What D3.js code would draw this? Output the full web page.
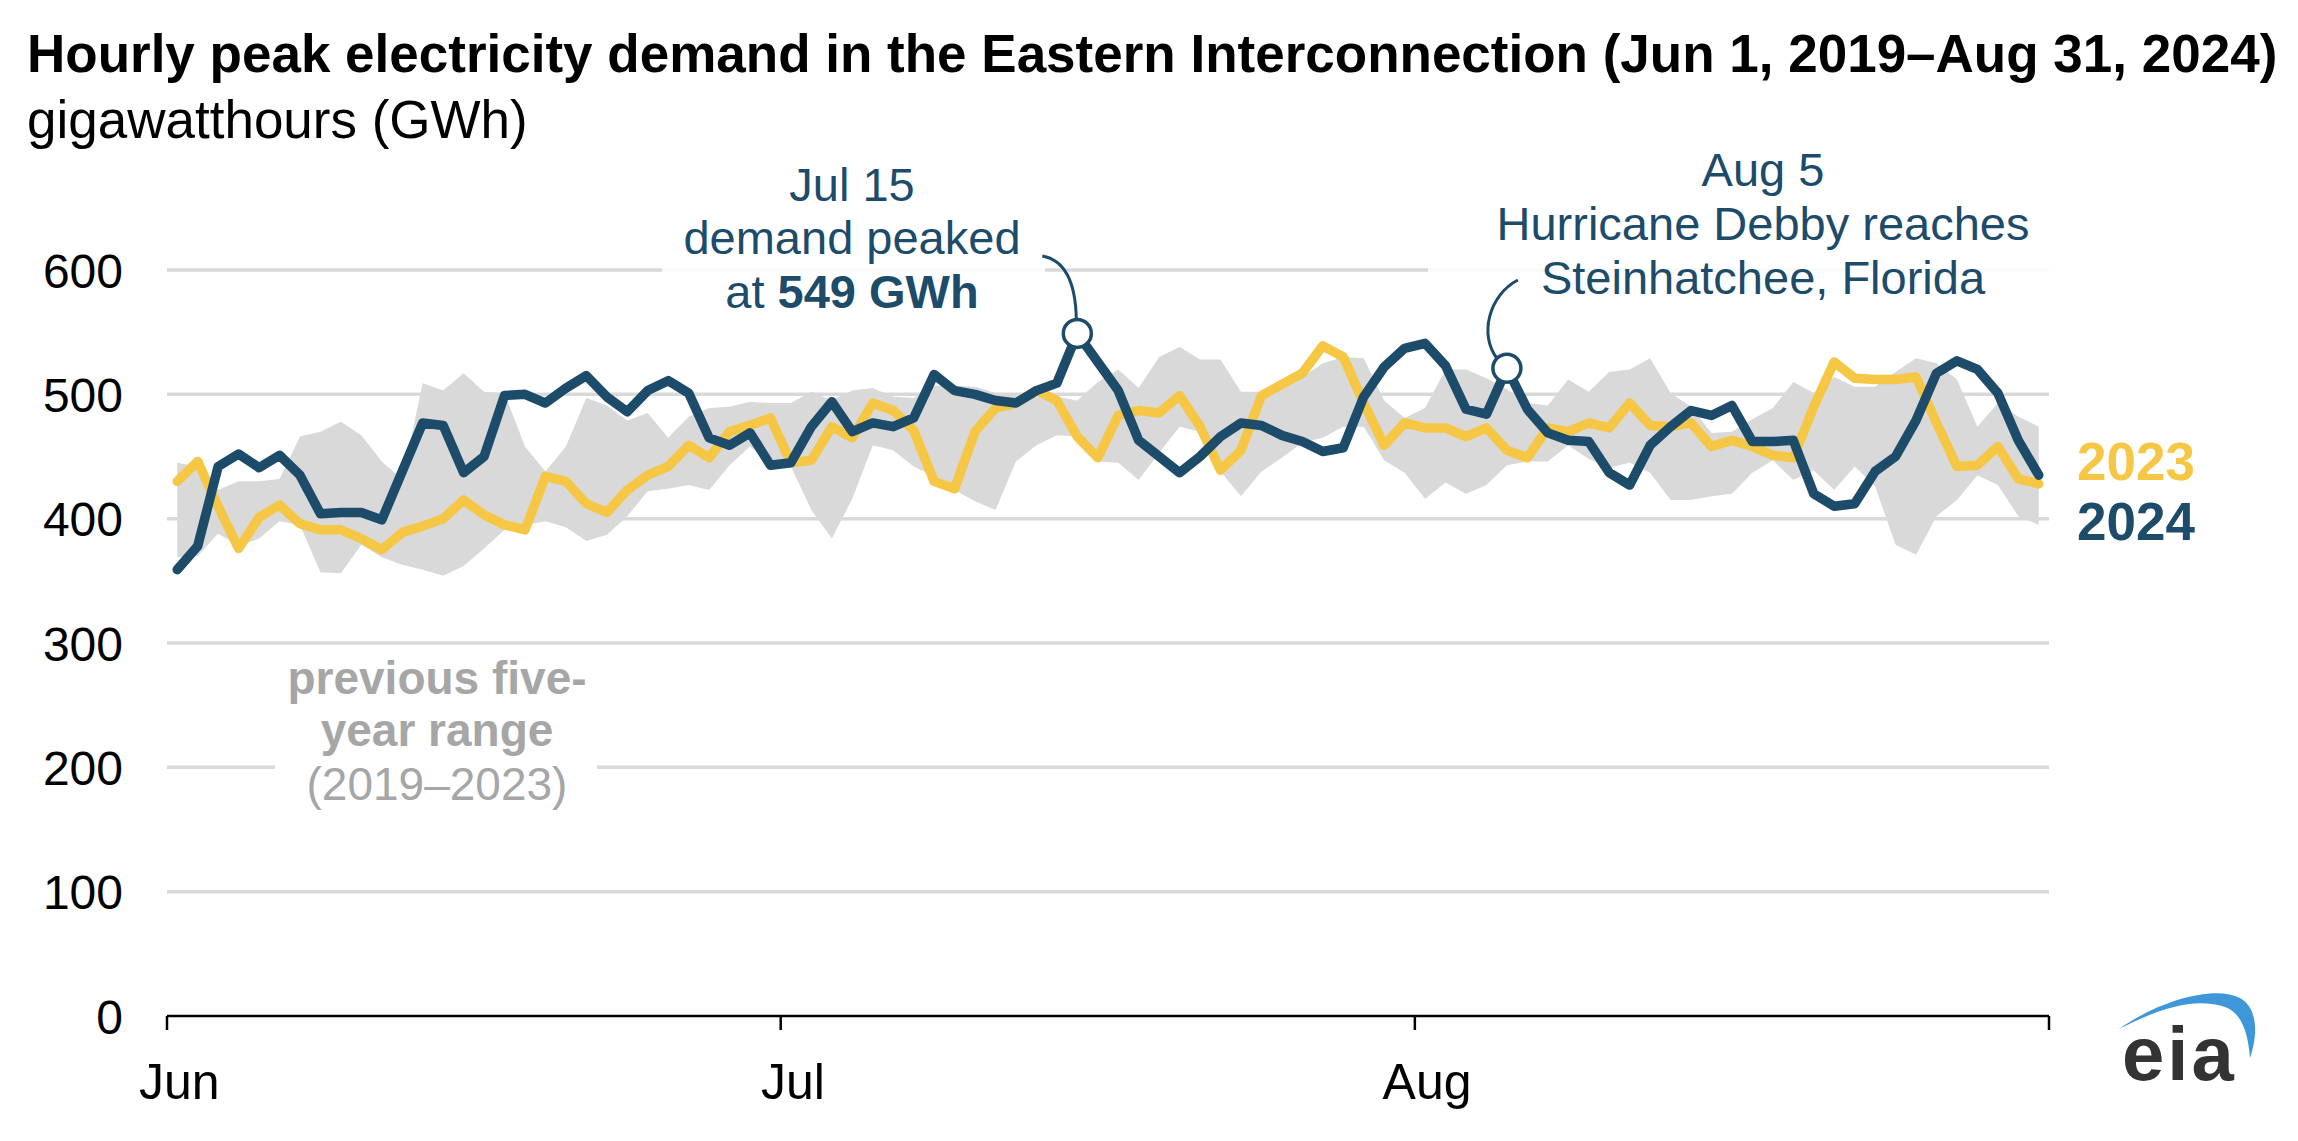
<!DOCTYPE html>
<html><head><meta charset="utf-8">
<script src="https://cdn.jsdelivr.net/npm/d3@7"></script>
<style>
html,body{margin:0;padding:0;background:#fff;}
svg{display:block;}
text{font-family:"Liberation Sans",Arial,Helvetica,sans-serif;}
</style></head><body>
<svg id="chart" width="2298" height="1141"></svg>
<script>
// ---------------- data ----------------
const days = d3.timeDay.range(new Date(2024,5,1), new Date(2024,8,1)); // Jun 1 .. Aug 31
const monthTicks = [new Date(2024,5,1), new Date(2024,6,1), new Date(2024,7,1)];
const monthLabels = ["Jun","Jul","Aug"];
const yTicks = [0,100,200,300,400,500,600];
const seriesNames = ["2023","2024"];

const demand2024 = [359,378,442,452,441,451,435,404,405,405,399,438,477,475,437,450,499,500,493,505,
515,498,486,503,511,501,465,459,469,443,445,474,494,470,477,474,481,516,503,500,
495,493,503,509,549,526,503,463,450,437,450,466,477,475,467,462,454,457,498,522,
537,541,523,488,484,521,488,469,463,462,437,427,459,474,487,483,491,462,462,463,
420,410,412,438,450,479,517,527,520,501,463,435];

const demand2023 = [430,446,410,376,401,411,396,391,391,384,375,389,394,400,415,403,395,391,434,430,
412,405,423,435,442,459,449,470,475,481,445,447,474,465,493,487,471,430,424,470,
489,493,503,495,466,449,483,487,485,499,474,439,455,499,508,517,539,530,493,459,
477,473,473,466,473,455,449,473,470,477,473,493,475,474,477,458,463,458,451,449,
490,526,513,512,512,514,477,442,443,458,432,428];

const rangeHigh = [445,442,423,430,430,432,466,470,478,467,446,432,509,503,517,502,501,458,438,458,
497,491,479,485,465,482,489,490,494,493,493,502,495,503,505,498,497,507,507,506,
501,501,498,498,495,510,520,505,530,538,528,528,502,502,504,514,525,530,529,495,
481,489,520,520,513,504,493,491,512,502,518,520,529,501,490,469,470,480,489,510,
501,514,506,506,518,529,525,512,474,493,482,474];

const rangeLow = [369,370,388,378,384,398,395,357,356,379,369,363,359,354,362,376,391,395,398,393,
382,387,402,422,424,427,423,443,458,445,442,407,384,416,459,455,442,434,423,414,
407,446,459,467,466,446,445,431,453,474,470,438,418,438,449,461,465,474,474,447,
437,416,429,420,427,443,446,446,459,448,441,445,437,415,415,418,420,437,447,431,
439,423,442,426,379,371,402,415,435,427,402,395];

const peakIndex = 44;   // Jul 15
const debbyIndex = 65;  // Aug 5

// ---------------- style ----------------
const BLUE = "#1d4b6a", YELLOW = "#f6c744", GREY = "#d9d9d9", LABELGREY = "#a6a6a6";

const svg = d3.select("#chart");
const x = d3.scaleBand().domain(days.map(d => +d)).range([167, 2049]).paddingInner(0).paddingOuter(0);
const cx = i => x(+days[i]) + x.bandwidth()/2;
const y = d3.scaleLinear().domain([0, 600]).range([1016, 270]);

// title
svg.append("text").attr("x", 27).attr("y", 72).attr("font-size", 53).attr("font-weight", "bold")
  .attr("fill", "#000").text("Hourly peak electricity demand in the Eastern Interconnection (Jun 1, 2019\u2013Aug 31, 2024)");
svg.append("text").attr("x", 27).attr("y", 138).attr("font-size", 53).attr("fill", "#000")
  .text("gigawatthours (GWh)");

// gridlines
svg.append("g").selectAll("line").data(yTicks.filter(d => d > 0)).join("line")
  .attr("x1", 167).attr("x2", 2049).attr("y1", d => y(d)).attr("y2", d => y(d))
  .attr("stroke", GREY).attr("stroke-width", 3.5);

// y axis labels
const yAxis = d3.axisLeft(y).tickValues(yTicks).tickSize(0).tickPadding(0);
const gy = svg.append("g").attr("transform", "translate(123,0)").call(yAxis);
gy.select(".domain").remove();
gy.selectAll("text").attr("font-size", 48).attr("fill", "#000")
  .attr("font-family", '"Liberation Sans",Arial,sans-serif').attr("dy", "0.36em");

// range area
const area = d3.area().x((d, i) => cx(i)).y0((d, i) => y(rangeLow[i])).y1(d => y(d)).curve(d3.curveLinear);
svg.append("path").datum(rangeHigh).attr("d", area).attr("fill", GREY);

// text background boxes
svg.append("rect").attr("x", 662).attr("y", 150).attr("width", 383).attr("height", 165).attr("fill", "#fff").attr("opacity", 0.85);
svg.append("rect").attr("x", 1428).attr("y", 140).attr("width", 622).attr("height", 165).attr("fill", "#fff").attr("opacity", 0.85);
svg.append("rect").attr("x", 275).attr("y", 652).attr("width", 322).attr("height", 160).attr("fill", "#fff");

// lines
const line = d3.line().x((d, i) => cx(i)).y(d => y(d));
svg.append("path").datum(demand2023).attr("d", line).attr("fill", "none").attr("stroke", YELLOW)
  .attr("stroke-width", 9.5).attr("stroke-linejoin", "round").attr("stroke-linecap", "round");
svg.append("path").datum(demand2024).attr("d", line).attr("fill", "none").attr("stroke", BLUE)
  .attr("stroke-width", 9.5).attr("stroke-linejoin", "round").attr("stroke-linecap", "round");

// x axis
svg.append("line").attr("x1", 167).attr("x2", 2049).attr("y1", y(0)).attr("y2", y(0))
  .attr("stroke", "#000").attr("stroke-width", 2.5);
const tickXs = monthTicks.map(d => x(+d)).concat([x.range()[1]]);
svg.append("g").selectAll("line").data(tickXs).join("line")
  .attr("x1", d => d).attr("x2", d => d).attr("y1", y(0)).attr("y2", y(0) + 14)
  .attr("stroke", "#000").attr("stroke-width", 2.5);
svg.append("g").selectAll("text").data(monthTicks).join("text")
  .attr("x", d => x(+d) + x.bandwidth()/2 + 2).attr("y", 1099).attr("text-anchor", "middle")
  .attr("font-size", 50).attr("fill", "#000").text((d, i) => monthLabels[i]);

// range label
const rl = svg.append("text").attr("text-anchor", "middle").attr("fill", LABELGREY).attr("font-size", 46);
rl.append("tspan").attr("x", 437).attr("y", 694).attr("font-weight", "bold").text("previous five-");
rl.append("tspan").attr("x", 437).attr("y", 746).attr("font-weight", "bold").text("year range");
rl.append("tspan").attr("x", 437).attr("y", 800).text("(2019\u20132023)");

// legend
svg.append("text").attr("x", 2077).attr("y", 480).attr("font-size", 53).attr("font-weight", "bold")
  .attr("fill", YELLOW).text(seriesNames[0]);
svg.append("text").attr("x", 2077).attr("y", 540).attr("font-size", 53).attr("font-weight", "bold")
  .attr("fill", BLUE).text(seriesNames[1]);

// annotation: Jul 15
const a1 = svg.append("text").attr("text-anchor", "middle").attr("fill", BLUE).attr("font-size", 47);
a1.append("tspan").attr("x", 852).attr("y", 201).text("Jul 15");
a1.append("tspan").attr("x", 852).attr("y", 254).text("demand peaked");
const t3 = a1.append("tspan").attr("x", 852).attr("y", 308);
t3.append("tspan").text("at ");
t3.append("tspan").attr("font-weight", "bold").text(demand2024[peakIndex] + " GWh");

const px = cx(peakIndex), py = y(demand2024[peakIndex]);
svg.append("path").attr("d", `M${px-35},256 Q${px-2},262 ${px-1},${py-14}`)
  .attr("fill", "none").attr("stroke", BLUE).attr("stroke-width", 3);
svg.append("circle").attr("cx", px).attr("cy", py).attr("r", 14).attr("fill", "#fff")
  .attr("stroke", BLUE).attr("stroke-width", 3.5);

// annotation: Aug 5
const a2 = svg.append("text").attr("text-anchor", "middle").attr("fill", BLUE).attr("font-size", 47);
a2.append("tspan").attr("x", 1763).attr("y", 186).text("Aug 5");
a2.append("tspan").attr("x", 1763).attr("y", 240).text("Hurricane Debby reaches");
a2.append("tspan").attr("x", 1763).attr("y", 294).text("Steinhatchee, Florida");

const dx = cx(debbyIndex), dy = y(demand2024[debbyIndex]);
svg.append("path").attr("d", `M${dx+11},280 C${dx-18},295 ${dx-28},335 ${dx-10},${dy-10}`)
  .attr("fill", "none").attr("stroke", BLUE).attr("stroke-width", 3);
svg.append("circle").attr("cx", dx).attr("cy", dy).attr("r", 14).attr("fill", "#fff")
  .attr("stroke", BLUE).attr("stroke-width", 3.5);

// eia logo
const logo = svg.append("g");
logo.append("path").attr("d", "M2119,1029 C2160,1000 2215,985 2240,998 C2258,1008 2258,1035 2250,1058 C2248,1030 2240,1012 2225,1007 C2195,997 2160,1008 2119,1029 Z")
  .attr("fill", "#3d97d9");
logo.append("text").attr("x", 2122).attr("y", 1080).attr("font-size", 76).attr("font-weight", "bold")
  .attr("letter-spacing", 3).attr("fill", "#333").text("eia");
</script>
</body></html>
